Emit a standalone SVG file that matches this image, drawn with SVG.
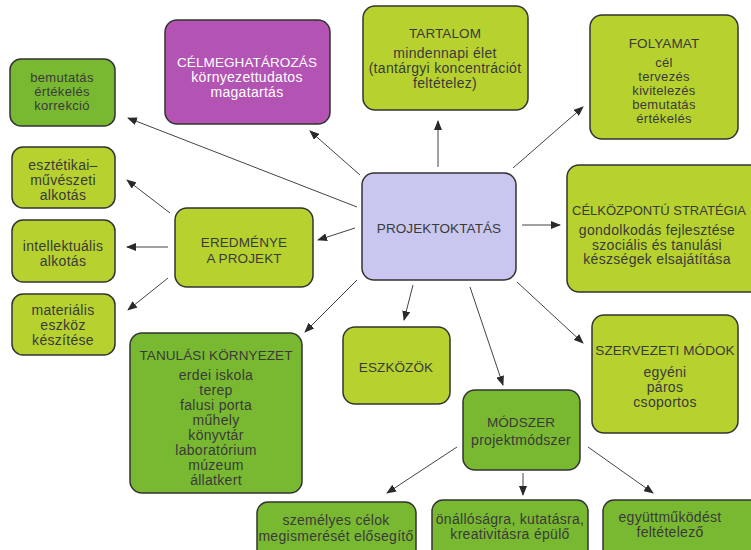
<svg xmlns="http://www.w3.org/2000/svg" width="751" height="550" viewBox="0 0 751 550">
<defs>
<marker id="ah" markerWidth="10" markerHeight="8" refX="9" refY="4" orient="auto" markerUnits="userSpaceOnUse">
<path d="M0,0 L10,4 L0,8 Z" fill="#2a2a2a"/>
</marker>
<style>
.box{stroke:#333;stroke-width:1.5}
.lime{fill:#b7d22f}
.dg{fill:#79b931}
.mag{fill:#b353b4}
.lav{fill:#c9c7ef}
text{font-family:"Liberation Sans","Noto Sans",sans-serif;font-size:14px;letter-spacing:0.3px;fill:#3a3a3a;text-anchor:middle}
.t{font-size:13.5px;letter-spacing:0.1px}
.s{font-size:13px}
.w{fill:#ffffff}
.c line{stroke:#444;stroke-width:1;marker-end:url(#ah)}
</style>
</defs>
<rect width="751" height="550" fill="#ffffff"/>
<g class="c" id="connectors">
<line x1="357" y1="207" x2="128" y2="118"/>
<line x1="360" y1="175" x2="310" y2="131"/>
<line x1="438" y1="167" x2="438" y2="121"/>
<line x1="513" y1="168" x2="583" y2="107"/>
<line x1="522" y1="225" x2="560" y2="225"/>
<line x1="517" y1="282" x2="583" y2="343"/>
<line x1="470" y1="287" x2="503" y2="385"/>
<line x1="413" y1="285" x2="404" y2="320"/>
<line x1="357" y1="280" x2="305" y2="332"/>
<line x1="355" y1="228" x2="318" y2="240"/>
<line x1="170" y1="213" x2="127" y2="180"/>
<line x1="168" y1="247" x2="127" y2="247"/>
<line x1="168" y1="278" x2="128" y2="310"/>
<line x1="457" y1="447" x2="387" y2="493"/>
<line x1="523" y1="473" x2="523" y2="495"/>
<line x1="588" y1="447" x2="653" y2="493"/>
</g>
<g id="bemutatas">
<rect class="box dg" x="10" y="59" width="105" height="67" rx="11"/>
<text class="s" x="62" y="82">bemutatás</text><text class="s" x="62" y="96">értékelés</text><text class="s" x="62" y="110">korrekció</text>
</g>
<g id="celmeghatarozas">
<rect class="box mag" x="165" y="20" width="165" height="104" rx="12"/>
<text class="t w" x="247" y="67">CÉLMEGHATÁROZÁS</text><text class="w" x="247" y="82">környezettudatos</text><text class="w" x="247" y="97">magatartás</text>
</g>
<g id="tartalom">
<rect class="box lime" x="363" y="6" width="165" height="104" rx="12"/>
<text class="t" x="445" y="38">TARTALOM</text><text x="445" y="58">mindennapi élet</text><text x="445" y="73">(tantárgyi koncentrációt</text><text x="445" y="88">feltételez)</text>
</g>
<g id="folyamat">
<rect class="box lime" x="590" y="15" width="148" height="124" rx="12"/>
<text class="t" x="664" y="48">FOLYAMAT</text><text class="s" x="664" y="67">cél</text><text class="s" x="664" y="81">tervezés</text><text class="s" x="664" y="95">kivitelezés</text><text class="s" x="664" y="109">bemutatás</text><text class="s" x="664" y="123">értékelés</text>
</g>
<g id="esztetikai">
<rect class="box lime" x="12" y="147" width="103" height="61" rx="11"/>
<text x="63" y="170">esztétikai–</text><text x="63" y="185">művészeti</text><text x="63" y="200">alkotás</text>
</g>
<g id="intellektualis">
<rect class="box lime" x="12" y="220" width="103" height="62" rx="11"/>
<text x="63" y="251">intellektuális</text><text x="63" y="266">alkotás</text>
</g>
<g id="materialis">
<rect class="box lime" x="12" y="294" width="103" height="61" rx="11"/>
<text x="63" y="315">materiális</text><text x="63" y="330">eszköz</text><text x="63" y="345">készítése</text>
</g>
<g id="eredmenye">
<rect class="box lime" x="175" y="208" width="138" height="79" rx="12"/>
<text class="t" x="244" y="247">EREDMÉNYE</text><text class="t" x="244" y="263">A PROJEKT</text>
</g>
<g id="projektoktatas">
<rect class="box lav" x="362" y="173" width="154" height="107" rx="12"/>
<text class="t" x="439" y="233">PROJEKTOKTATÁS</text>
</g>
<g id="celkozpontu">
<rect class="box lime" x="567" y="165" width="200" height="127" rx="12"/>
<text class="t" x="572" y="215" style="text-anchor:start;letter-spacing:0" textLength="174" lengthAdjust="spacingAndGlyphs">CÉLKÖZPONTÚ STRATÉGIA</text><text x="657" y="235">gondolkodás fejlesztése</text><text x="657" y="249.5">szociális és tanulási</text><text x="657" y="264">készségek elsajátítása</text>
</g>
<g id="szervezeti">
<rect class="box lime" x="592" y="315" width="146" height="118" rx="12"/>
<text class="t" x="665" y="355">SZERVEZETI MÓDOK</text><text x="665" y="377">egyéni</text><text x="665" y="392">páros</text><text x="665" y="407">csoportos</text>
</g>
<g id="tanulasi">
<rect class="box dg" x="130" y="333" width="172" height="160" rx="12"/>
<text class="t" x="216" y="360">TANULÁSI KÖRNYEZET</text><text x="216" y="380">erdei iskola</text><text x="216" y="395">terep</text><text x="216" y="410">falusi porta</text><text x="216" y="425">műhely</text><text x="216" y="440">könyvtár</text><text x="216" y="455">laboratórium</text><text x="216" y="470">múzeum</text><text x="216" y="485">állatkert</text>
</g>
<g id="eszkozok">
<rect class="box lime" x="343" y="327" width="107" height="77" rx="12"/>
<text class="t" x="396" y="372">ESZKÖZÖK</text>
</g>
<g id="modszer">
<rect class="box dg" x="463" y="390" width="117" height="80" rx="12"/>
<text class="t" x="521" y="427">MÓDSZER</text><text x="521" y="445">projektmódszer</text>
</g>
<g id="szemelyes">
<rect class="box dg" x="257" y="502" width="159" height="60" rx="11"/>
<text x="336" y="525">személyes célok</text><text x="336" y="541">megismerését elősegítő</text>
</g>
<g id="onallosagra">
<rect class="box dg" x="432" y="500" width="156" height="62" rx="11"/>
<text x="510" y="524">önállóságra, kutatásra,</text><text x="510" y="539">kreativitásra épülő</text>
</g>
<g id="egyuttmukodest">
<rect class="box dg" x="603" y="500" width="160" height="62" rx="11"/>
<text x="670" y="522">együttműködést</text><text x="670" y="537">feltételező</text>
</g>
</svg>
